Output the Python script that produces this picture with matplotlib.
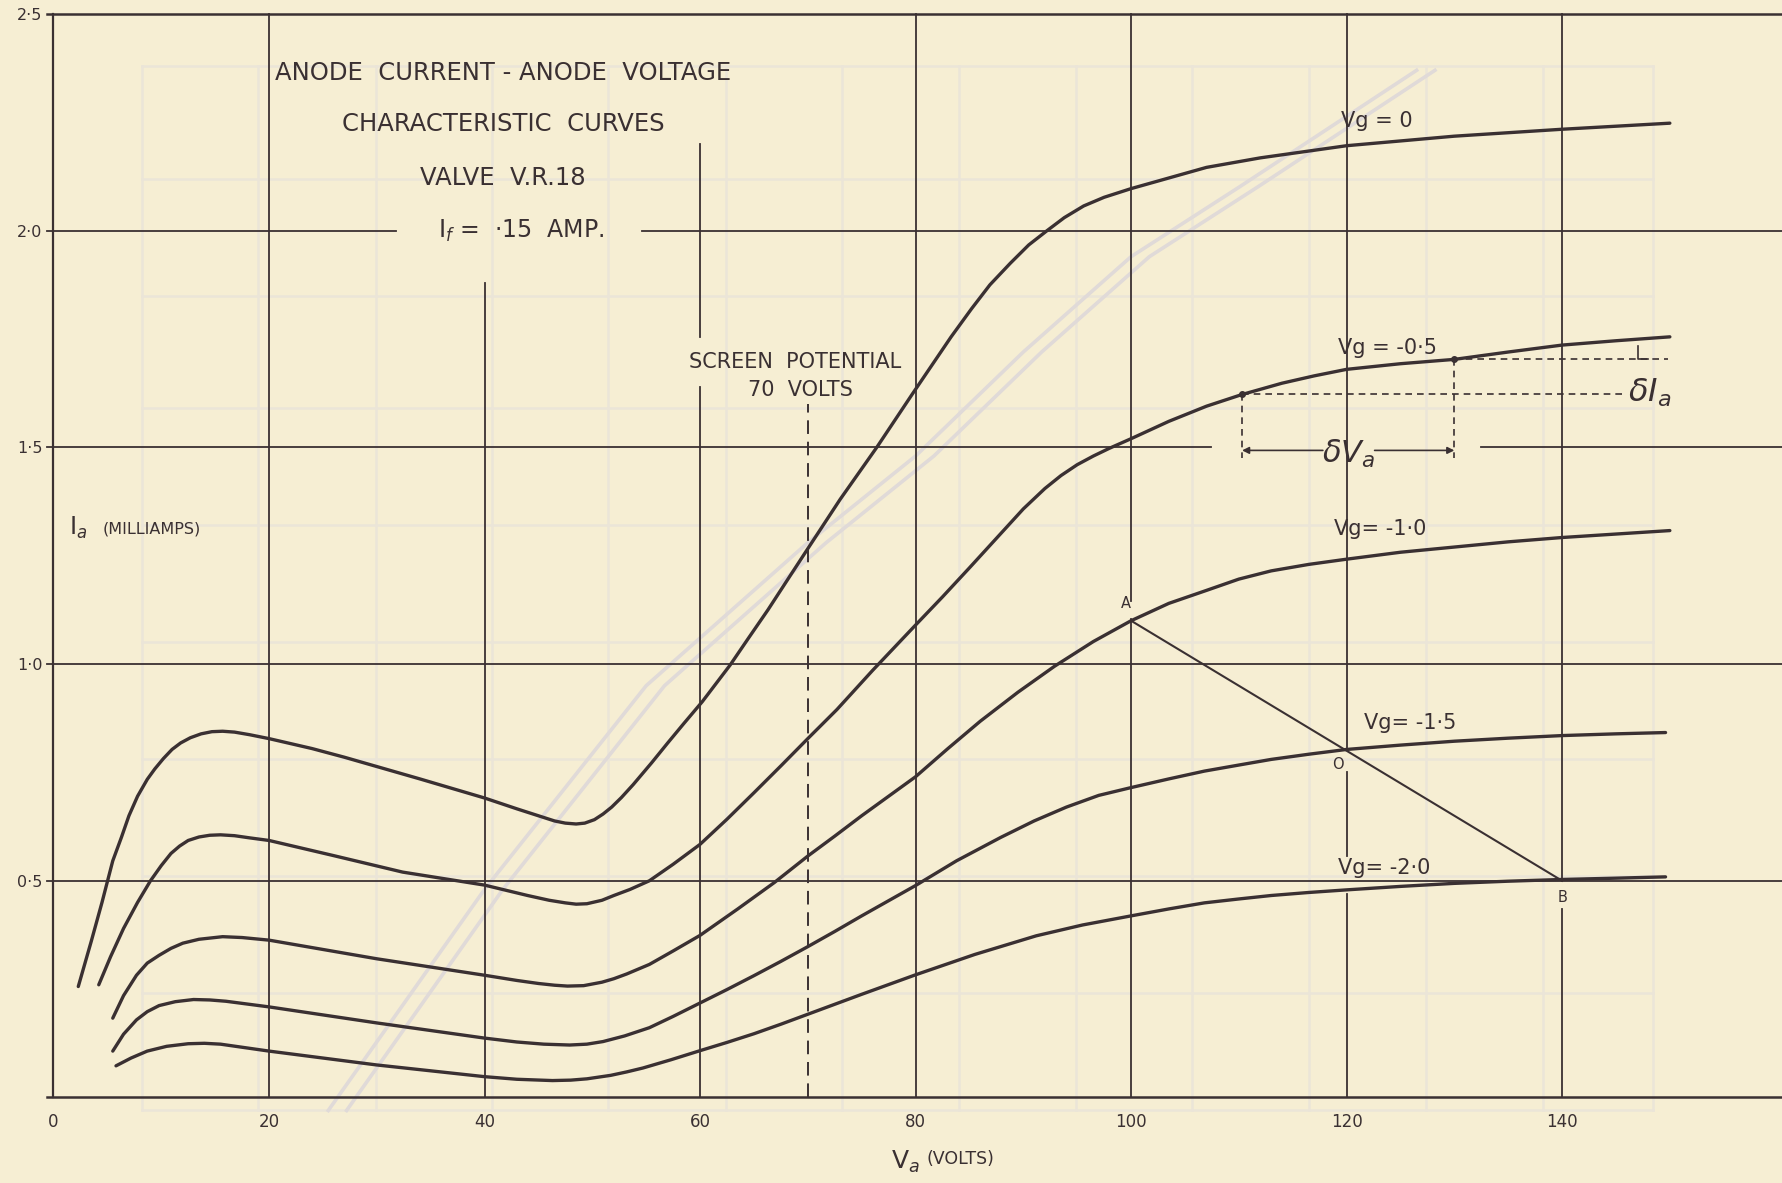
import matplotlib
matplotlib.use("Agg")
from matplotlib import pyplot as plt

# Anode current (mA) against anode voltage (V)
VG0_VA = [2.3, 3.5, 4.5, 5.5, 6.3, 7.0, 7.8, 8.7, 9.4, 10.2, 11.0, 11.8, 12.7, 13.7, 14.7,
          15.7, 16.8, 18.2, 20.0, 24.0, 27.0, 34.0, 40.0, 43.0, 45.0, 46.5, 47.5, 48.5, 49.3,
          50.2, 51.0, 51.8, 52.7, 53.8, 55.5, 57.0, 58.5, 60.2, 62.8, 64.5, 66.3, 68.0, 70.1,
          73.0, 76.4, 79.7, 83.3, 85.2, 86.9, 88.8, 90.5, 92.2, 93.8, 95.6, 97.5, 100.0,
          103.0, 107.0, 112.0, 120.0, 130.0, 140.0, 150.0]
VG0_IA = [0.256, 0.36, 0.45, 0.546, 0.60, 0.65, 0.695, 0.734, 0.758, 0.782, 0.803, 0.818, 0.83,
          0.839, 0.844, 0.845, 0.843, 0.837, 0.828, 0.805, 0.785, 0.735, 0.691, 0.666, 0.65,
          0.638, 0.633, 0.631, 0.633, 0.641, 0.654, 0.67, 0.692, 0.722, 0.772, 0.818, 0.863,
          0.913, 0.998, 1.06, 1.125, 1.19, 1.27, 1.38, 1.50, 1.623, 1.755, 1.82, 1.875, 1.925,
          1.967, 2.0, 2.03, 2.057, 2.077, 2.097, 2.118, 2.146, 2.168, 2.196, 2.218, 2.234, 2.248]

VG05_VA = [4.2, 5.3, 6.5, 7.8, 9.0, 10.0, 10.9, 11.7, 12.5, 13.5, 14.5, 15.5, 16.8, 18.2, 20.0,
           26.0, 32.4, 40.0, 44.0, 46.0, 47.5, 48.5, 49.5, 50.9, 52.0, 53.5, 55.3, 57.5, 60.0,
           62.5, 65.0, 67.5, 70.0, 72.7, 76.0, 80.0, 82.5, 85.0, 87.5, 90.0, 92.0, 93.5, 95.0,
           96.5, 98.0, 100.0, 103.5, 107.0, 110.3, 114.0, 117.0, 120.0, 125.0, 130.0, 135.0,
           140.0, 145.0, 150.0]
VG05_IA = [0.26, 0.325, 0.39, 0.45, 0.50, 0.535, 0.563, 0.58, 0.593, 0.601, 0.605, 0.606, 0.604,
           0.599, 0.593, 0.558, 0.52, 0.49, 0.466, 0.455, 0.449, 0.446, 0.447, 0.455, 0.466,
           0.48, 0.50, 0.538, 0.584, 0.642, 0.703, 0.765, 0.828, 0.895, 0.985, 1.09, 1.155,
           1.222, 1.29, 1.358, 1.405, 1.435, 1.46, 1.48, 1.498, 1.52, 1.56, 1.595, 1.622, 1.648,
           1.665, 1.68, 1.693, 1.703, 1.72, 1.736, 1.746, 1.755]

VG10_VA = [5.5, 6.5, 7.7, 8.7, 9.8, 10.9, 12.0, 13.5, 15.7, 17.5, 20.0, 30.0, 40.0, 43.0, 45.0,
           46.5, 47.7, 49.2, 50.9, 52.0, 53.2, 55.3, 57.5, 60.0, 63.5, 66.9, 70.0, 72.5, 75.0,
           77.5, 80.0, 83.0, 86.0, 89.5, 92.9, 96.5, 100.0, 103.5, 107.0, 110.0, 113.0, 116.5,
           120.0, 125.0, 130.0, 135.0, 140.0, 145.0, 150.0]
VG10_IA = [0.183, 0.235, 0.282, 0.31, 0.328, 0.344, 0.356, 0.365, 0.371, 0.369, 0.363, 0.32,
           0.282, 0.27, 0.263, 0.259, 0.257, 0.258, 0.266, 0.274, 0.285, 0.307, 0.338, 0.374,
           0.435, 0.496, 0.557, 0.603, 0.65, 0.695, 0.74, 0.805, 0.868, 0.935, 0.995, 1.052,
           1.10, 1.14, 1.17, 1.196, 1.215, 1.23, 1.242, 1.258, 1.27, 1.282, 1.292, 1.30, 1.308]

VG15_VA = [5.5, 6.5, 7.7, 8.7, 9.8, 11.3, 13.0, 14.5, 16.0, 20.0, 30.0, 40.0, 43.0, 45.5, 47.9,
           49.5, 51.0, 53.0, 55.3, 57.5, 60.0, 62.5, 65.0, 67.5, 70.0, 72.5, 75.0, 77.5, 80.0,
           83.8, 87.9, 91.0, 94.0, 97.0, 100.0, 103.5, 106.8, 110.0, 113.0, 116.5, 120.0,
           125.0, 130.0, 135.0, 140.0, 145.0, 149.6]
VG15_IA = [0.107, 0.146, 0.179, 0.198, 0.212, 0.221, 0.226, 0.225, 0.222, 0.209, 0.172, 0.137,
           0.128, 0.123, 0.121, 0.123, 0.129, 0.142, 0.161, 0.187, 0.218, 0.249, 0.281, 0.314,
           0.348, 0.383, 0.419, 0.454, 0.489, 0.546, 0.60, 0.638, 0.67, 0.697, 0.715, 0.735,
           0.753, 0.767, 0.78, 0.792, 0.803, 0.813, 0.822, 0.829, 0.835, 0.839, 0.842]

VG20_VA = [5.8, 7.2, 8.7, 10.5, 12.5, 14.0, 15.5, 20.0, 30.0, 40.0, 43.0, 46.3, 48.0, 49.5,
           51.7, 53.2, 54.7, 57.3, 60.0, 62.5, 65.0, 67.5, 70.0, 75.0, 80.0, 85.5, 91.2, 95.5,
           100.0, 103.5, 106.8, 110.0, 113.0, 116.5, 120.0, 125.0, 130.0, 135.0, 140.0, 145.0,
           149.6]
VG20_IA = [0.073, 0.091, 0.107, 0.118, 0.124, 0.125, 0.123, 0.107, 0.075, 0.048, 0.042, 0.039,
           0.04, 0.043, 0.051, 0.059, 0.068, 0.087, 0.108, 0.127, 0.147, 0.169, 0.192, 0.238,
           0.283, 0.33, 0.373, 0.398, 0.419, 0.435, 0.449, 0.458, 0.466, 0.473, 0.479, 0.487,
           0.494, 0.499, 0.503, 0.506, 0.509]

CURVE_LABELS = ["Vg = 0", "Vg = -0·5", "Vg= -1·0", "Vg= -1·5", "Vg= -2·0"]

# load line A-O-B
LOAD_VA = [100, 120, 140]
LOAD_IA = [1.10, 0.80, 0.50]
LOAD_NAMES = ["A", "O", "B"]

# the two points used for the slope (dVa, dIa) construction
SLOPE_VA = [110.3, 130.0]
SLOPE_IA = [1.622, 1.703]

SCREEN_VOLTS = 70

X_TICKS = [0, 20, 40, 60, 80, 100, 120, 140]
Y_TICKS = [0.5, 1.0, 1.5, 2.0, 2.5]
Y_TICK_LABELS = ["0·5", "1·0", "1·5", "2·0", "2·5"]

# faint show-through from the back of the sheet
GHOST_VA = [25.5, 40, 55, 70, 80, 90, 100, 110, 126.5]
GHOST_IA = [-0.03, 0.48, 0.95, 1.28, 1.48, 1.72, 1.94, 2.10, 2.37]
GHOST_GRID_V = [8.2, 19.0, 29.9, 40.7, 51.5, 62.4, 73.2, 84.0, 94.9, 105.7, 116.5, 127.4, 138.2, 148.4]
GHOST_GRID_I = [-0.03, 0.24, 0.51, 0.78, 1.05, 1.32, 1.59, 1.85, 2.12, 2.38]

PAPER = "#f6eed3"
INK = "#3a3032"
GHOST = "#ebe5d8"


def draw_ghost(ax):
    for v in GHOST_GRID_V:
        ax.plot([v, v], [GHOST_GRID_I[0], GHOST_GRID_I[-1]], c=GHOST, lw=1.8, zorder=1, clip_on=False)
    for i in GHOST_GRID_I:
        ax.plot([GHOST_GRID_V[0], GHOST_GRID_V[-1]], [i, i], c=GHOST, lw=1.8, zorder=1, clip_on=False)
    ax.plot(GHOST_VA, GHOST_IA, c="#e0dad8", lw=2.6, zorder=1, clip_on=False)
    ax.plot([v + 1.7 for v in GHOST_VA], GHOST_IA, c="#e0dad8", lw=2.6, zorder=1, clip_on=False)


def draw_grid(ax):
    # heavy ruled lines, with the gaps left for lettering
    verticals = [(0, 0, 2.5), (20, 0, 2.5), (40, 0, 1.88), (60, 0, 1.64), (60, 1.755, 2.2),
                 (80, 0, 2.5), (100, 0, 1.105), (100, 1.145, 2.5),
                 (120, 0, 0.47), (120, 0.556, 0.752), (120, 0.803, 2.5),
                 (140, 0, 0.436), (140, 0.50, 2.5)]
    for x, y0, y1 in verticals:
        ax.plot([x, x], [y0, y1], c=INK, lw=1.6 if x == 0 else 1.3, zorder=3, clip_on=False)

    right = 160.6
    horizontals = [(0, -0.6, right), (0.5, -0.6, right), (1.0, -0.6, right),
                   (1.5, -0.6, 107.4), (1.5, 132.5, right),
                   (2.0, -0.6, 31.8), (2.0, 54.6, right), (2.5, -0.6, right)]
    for y, x0, x1 in horizontals:
        ax.plot([x0, x1], [y, y], c=INK, lw=1.8 if y in (0, 2.5) else 1.3, zorder=3, clip_on=False)

    ax.plot([SCREEN_VOLTS, SCREEN_VOLTS], [0, 1.6], c=INK, lw=1.4, ls=(0, (7, 4)), zorder=3)


def draw_curves(ax):
    curves = [(VG0_VA, VG0_IA), (VG05_VA, VG05_IA), (VG10_VA, VG10_IA),
              (VG15_VA, VG15_IA), (VG20_VA, VG20_IA)]
    for va, ia in curves:
        ax.plot(va, ia, c=INK, lw=2.4, solid_capstyle="round", solid_joinstyle="round", zorder=5)

    label_pos = [(119.5, 2.252), (119.2, 1.73), (118.8, 1.312), (121.6, 0.864), (119.2, 0.53)]
    for text, (x, y) in zip(CURVE_LABELS, label_pos):
        ax.text(x, y, text, fontsize=15, color=INK, ha="left", va="center", zorder=6)

    # load line through A, O and B
    ax.plot(LOAD_VA, LOAD_IA, c=INK, lw=1.5, zorder=4)
    name_pos = [(99.5, 1.14), (119.2, 0.768), (140.0, 0.462)]
    for name, (x, y) in zip(LOAD_NAMES, name_pos):
        ax.text(x, y, name, fontsize=10.5, color=INK, ha="center", va="center", zorder=6)


def draw_slope(ax):
    (v1, v2), (i1, i2) = SLOPE_VA, SLOPE_IA
    ax.plot(SLOPE_VA, SLOPE_IA, "o", c=INK, ms=4, zorder=6)
    dash = (0, (4, 3))
    ax.plot([v1, 145.6], [i1, i1], c=INK, lw=1.2, ls=dash, zorder=4)
    ax.plot([v2, 149.8], [i2, i2], c=INK, lw=1.2, ls=dash, zorder=4)
    ax.plot([v1, v1], [i1, 1.475], c=INK, lw=1.2, ls=dash, zorder=4)
    ax.plot([v2, v2], [i2, 1.475], c=INK, lw=1.2, ls=dash, zorder=4)

    arrow = dict(arrowstyle="-|>", color=INK, lw=1.2, mutation_scale=10, shrinkA=0, shrinkB=0)
    ax.annotate("", xy=(v1, 1.493), xytext=(117.8, 1.493), arrowprops=arrow, zorder=6)
    ax.annotate("", xy=(v2, 1.493), xytext=(122.6, 1.493), arrowprops=arrow, zorder=6)
    ax.text(120.2, 1.485, r"$\delta V_a$", fontsize=22, color=INK, ha="center", va="center", zorder=6)

    ax.plot([147.0, 147.0, 148.0], [1.735, i2, i2], c=INK, lw=1.2, zorder=4)
    ax.text(146.1, 1.625, r"$\delta I_a$", fontsize=23, color=INK, ha="left", va="center", zorder=6)


def draw_lettering(ax):
    title = ["ANODE  CURRENT - ANODE  VOLTAGE", "CHARACTERISTIC  CURVES", "VALVE  V.R.18"]
    for line, y in zip(title, [2.364, 2.247, 2.122]):
        ax.text(41.7, y, line, fontsize=17.5, color=INK, ha="center", va="center", zorder=6)
    ax.text(43.4, 2.0, r"I$_f$ =  ·15  AMP.", fontsize=17, color=INK, ha="center", va="center", zorder=6)

    ax.text(68.8, 1.697, "SCREEN  POTENTIAL", fontsize=15, color=INK, ha="center", va="center", zorder=6)
    ax.text(69.3, 1.632, "70  VOLTS", fontsize=15, color=INK, ha="center", va="center", zorder=6)

    ax.text(1.4, 1.315, r"I$_a$", fontsize=17, color=INK, ha="left", va="center", zorder=6)
    ax.text(4.6, 1.312, "(MILLIAMPS)", fontsize=11.5, color=INK, ha="left", va="center", zorder=6)

    ax.text(77.7, -0.148, r"V$_a$", fontsize=18, color=INK, ha="left", va="center", clip_on=False)
    ax.text(81.0, -0.142, "(VOLTS)", fontsize=12.5, color=INK, ha="left", va="center", clip_on=False)


def main():
    fig = plt.figure(figsize=(17.83, 11.83), dpi=100, facecolor=PAPER)
    ax = fig.add_axes([53.5 / 1783, 0.0723, 1 - 53.5 / 1783, 0.9159])
    ax.set_facecolor("none")
    ax.set_xlim(0, 160.5)
    ax.set_ylim(0, 2.5)
    for spine in ax.spines.values():
        spine.set_visible(False)

    ax.set_xticks(X_TICKS)
    ax.set_xticklabels([str(v) for v in X_TICKS])
    ax.set_yticks(Y_TICKS)
    ax.set_yticklabels(Y_TICK_LABELS)
    ax.tick_params(axis="x", length=0, pad=11, labelsize=12, labelcolor=INK)
    ax.tick_params(axis="y", length=0, pad=8, labelsize=11.5, labelcolor=INK)

    draw_ghost(ax)
    draw_grid(ax)
    draw_curves(ax)
    draw_slope(ax)
    draw_lettering(ax)

    fig.savefig("out.png", dpi=100, facecolor=PAPER)


if __name__ == "__main__":
    main()
